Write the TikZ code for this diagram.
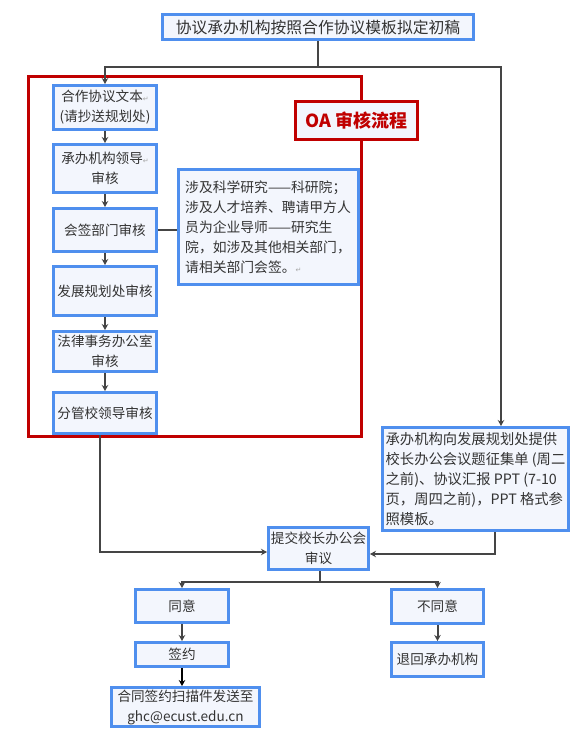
\documentclass[tikz,border=0pt]{standalone}
\usepackage{fontspec}
\setmainfont{Noto Sans CJK SC}
\newfontfamily\symfont{DejaVu Sans}
\usetikzlibrary{arrows.meta,calc}
\definecolor{boxblue}{HTML}{4F8FEE}
\definecolor{boxfill}{HTML}{F3F6FD}
\definecolor{framered}{HTML}{C00000}
\definecolor{linegray}{HTML}{454545}
\definecolor{txt}{HTML}{333333}
\newcommand{\retmark}{{\symfont\fontsize{7}{7}\selectfont\color{gray!70}↵}}
\begin{document}
\begin{tikzpicture}[x=1pt,y=-1pt,
 box/.style={draw=boxblue, line width=3pt, fill=boxfill, text=txt, inner sep=2pt, align=center, font=\fontsize{13.6}{20}\selectfont},
 conn/.style={draw=linegray, line width=2pt},
 arr/.style={conn, -{Stealth[length=6pt,width=6.5pt]}},
]
\useasboundingbox (0,0) rectangle (581,734);
\fill[white] (0,0) rectangle (581,734);

% red frame
\node[draw=framered, line width=3pt, minimum width=333pt, minimum height=360pt, inner sep=0pt] (frame) at (195,256.5) {};

% nodes
\node[box, minimum width=311pt, minimum height=25pt, font=\fontsize{15.8}{20}\selectfont] (top) at (318,27) {协议承办机构按照合作协议模板拟定初稿};
\node[box, minimum width=103pt, minimum height=44pt] (n1) at (105,107.5) {合作协议文本\retmark\\(请抄送规划处)};
\node[box, minimum width=103pt, minimum height=48pt] (n2) at (105,168.5) {承办机构领导\retmark\\审核};
\node[box, minimum width=103pt, minimum height=43pt] (n3) at (105,230) {会签部门审核};
\node[box, minimum width=103pt, minimum height=49pt] (n4) at (105,291) {发展规划处审核};
\node[box, minimum width=103pt, minimum height=40pt] (n5) at (105,351.5) {法律事务办公室\\审核};
\node[box, minimum width=103pt, minimum height=41pt] (n6) at (105,413) {分管校领导审核};
\node[box, minimum width=180pt, minimum height=115pt, align=left, font=\fontsize{13.8}{20}\selectfont] (note) at (268,227) {涉及科学研究——科研院；\\涉及人才培养、聘请甲方人\\员为企业导师——研究生\\院，如涉及其他相关部门，\\请相关部门会签。\retmark};
\node[draw=framered, line width=3pt, fill=boxfill, text=framered, inner sep=0pt, minimum width=122pt, minimum height=38pt, font=\bfseries\fontsize{18}{20}\selectfont] (oa) at (356.5,120.5) {OA 审核流程};
\node[box, minimum width=186pt, minimum height=103pt, align=left, inner sep=3pt, font=\fontsize{14.3}{20}\selectfont] (rb) at (475.5,479) {承办机构向发展规划处提供\\校长办公会议题征集单 (周二\\之前)、协议汇报 PPT (7-10\\页，周四之前)，PPT 格式参\\照模板。};
\node[box, minimum width=100pt, minimum height=42pt] (sub) at (318.5,548.5) {提交校长办公会\\审议};
\node[box, minimum width=93pt, minimum height=33pt] (agree) at (182,606) {同意};
\node[box, minimum width=92pt, minimum height=34pt] (dis) at (437.5,606.5) {不同意};
\node[box, minimum width=93pt, minimum height=24pt] (sign) at (182,654.5) {签约};
\node[box, minimum width=148pt, minimum height=37pt] (send) at (185.5,707) {合同签约扫描件发送至\\ghc@ecust.edu.cn};
\node[box, minimum width=92pt, minimum height=34pt] (ret) at (437.5,659.5) {退回承办机构};

% connectors
\coordinate (j1) at (318,67);
\coordinate (xr) at (501,0);
\draw[conn] (top.south) -- (j1);
\draw[arr] (j1) -| (n1.north);
\draw[arr] (j1) -| (rb.north -| xr);
\draw[arr] (n1) -- (n2);
\draw[arr] (n2) -- (n3);
\draw[arr] (n3) -- (n4);
\draw[arr] (n4) -- (n5);
\draw[arr] (n5) -- (n6);
\draw[conn] (n3.east) -- (n3.east -| note.west);
\coordinate (c1) at (100,552);
\draw[arr] (n6.south -| c1) |- (sub.west |- c1);
\coordinate (c2) at (495,554);
\draw[arr] (rb.south -| c2) |- (sub.east |- c2);
\coordinate (c3) at (320,582);
\draw[conn] (sub.south -| c3) -- (c3);
\draw[arr] (c3) -| (agree.north);
\draw[arr] (c3) -| (dis.north);
\draw[arr] (agree) -- (sign);
\draw[black, line width=2.5pt, -{Stealth[length=6pt,width=6.5pt]}] (sign.south) -- (sign.south |- send.north);
\draw[arr] (dis) -- (ret);
\end{tikzpicture}
\end{document}
